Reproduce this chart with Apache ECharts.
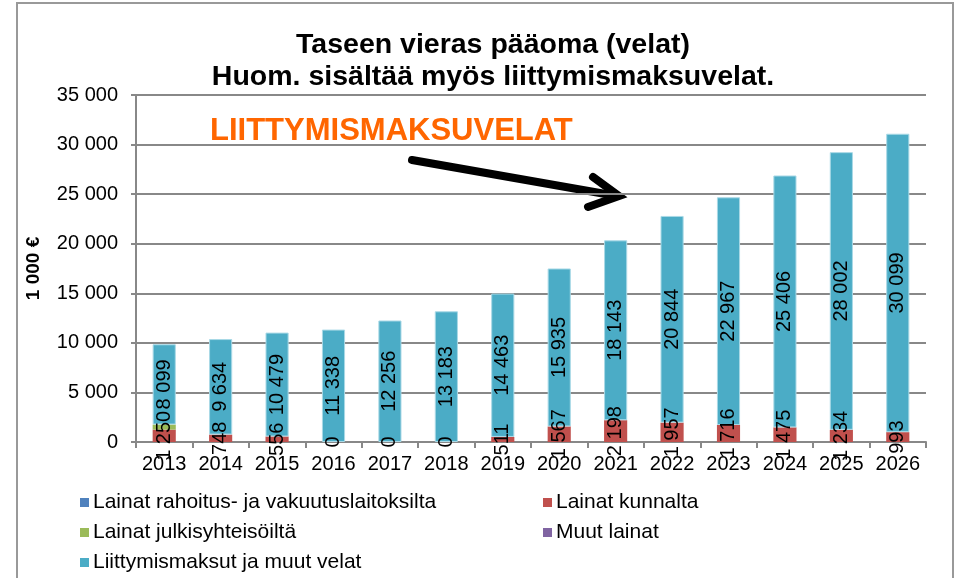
<!DOCTYPE html>
<html>
<head>
<meta charset="utf-8">
<script src="https://cdn.jsdelivr.net/npm/echarts@6/dist/echarts.min.js"></script>
<style>html,body{margin:0;padding:0;background:#fff}#c{width:954px;height:578px}</style>
</head>
<body>
<div id="c"></div>
<script>
const years = ['2013','2014','2015','2016','2017','2018','2019','2020','2021','2022','2023','2024','2025','2026'];
const rahoitus = [null,null,null,null,null,null,null,null,null,null,null,null,null,null];
const kunnalta = [1250,748,556,0,0,0,511,1567,2198,1957,1716,1475,1234,993];
const julkisyhteisoilta = [510,null,null,null,null,null,null,null,null,null,null,null,null,null];
const muutLainat = [null,null,null,null,null,null,null,null,null,null,null,null,null,null];
const liittymismaksut = [8099,9634,10479,11338,12256,13183,14463,15935,18143,20844,22967,25406,28002,30099];
const seriesNames = ['Lainat rahoitus- ja vakuutuslaitoksilta','Lainat kunnalta','Lainat julkisyhteisöiltä','Muut lainat','Liittymismaksut ja muut velat'];
const colors = ['#4F81BD','#C0504D','#9BBB59','#8064A2','#4BACC6'];
const titleText = 'Taseen vieras pääoma (velat)\nHuom. sisältää myös liittymismaksuvelat.';
const annotation = 'LIITTYMISMAKSUVELAT';

const FONT = 'Liberation Sans, Arial, sans-serif';
function fmt(v){ return String(v).replace(/\B(?=(\d{3})+(?!\d))/g,' '); }

const dataLabel = {
  show: true, position: 'inside', rotate: 90, color: '#000', fontSize: 20,
  fontFamily: FONT, textBorderWidth: 0,
  formatter: p => (p.value === null || p.value === undefined) ? '' : fmt(p.value)
};
const allData = [rahoitus, kunnalta, julkisyhteisoilta, muutLainat, liittymismaksut];
const showLabel = [false, true, false, false, true];

const series = allData.map((d,i) => ({
  name: seriesNames[i], type: 'bar', stack: 'total', data: d, barWidth: '41%',
  itemStyle: { color: colors[i], borderColor: i===4 ? '#a9d9e6' : colors[i], borderWidth: i===4 ? 1 : 0 },
  label: showLabel[i] ? dataLabel : { show: false },
  emphasis: { disabled: true }
}));

const legendPos = [[80,492],[543,492],[80,522],[543,522],[80,552]];
const legends = seriesNames.map((n,i) => ({
  data: [{ name: n, itemStyle: { borderWidth: 0 } }], left: legendPos[i][0], top: legendPos[i][1], padding: 0,
  icon: 'rect', itemWidth: 9, itemHeight: 9, itemGap: 0,
  textStyle: { fontSize: 21, fontFamily: FONT, color: '#000', padding: [0,0,0,-1] },
  selectedMode: false
}));

const chart = echarts.init(document.getElementById('c'), null, {renderer: 'canvas'});
chart.setOption({
  animation: false,
  backgroundColor: '#fff',
  color: colors,
  title: {
    text: titleText, left: 488, textAlign: 'center', top: 24,
    textStyle: { fontSize: 28.5, fontWeight: 'bold', fontFamily: FONT, color: '#000', lineHeight: 32 }
  },
  legend: legends,
  grid: { left: 136, right: 28, top: 95, bottom: 136, containLabel: false },
  xAxis: {
    type: 'category', data: years,
    axisLine: { lineStyle: { color: '#888', width: 2 } },
    axisTick: { show: true, alignWithLabel: false, length: 6, lineStyle: { color: '#888', width: 2 } },
    axisLabel: { interval: 0, fontSize: 20, fontFamily: FONT, color: '#000', margin: 12 }
  },
  yAxis: {
    type: 'value', min: 0, max: 35000, interval: 5000,
    name: '1 000 €', nameLocation: 'middle', nameRotate: 90, nameGap: 93,
    nameTextStyle: { fontSize: 19, fontWeight: 'bold', fontFamily: FONT, color: '#000' },
    axisLine: { show: true, lineStyle: { color: '#888', width: 2 } },
    axisTick: { show: true, length: 5, lineStyle: { color: '#888', width: 2 } },
    splitLine: { lineStyle: { color: '#888', width: 2 } },
    axisLabel: { fontSize: 20, fontFamily: FONT, color: '#000', margin: 18, formatter: v => fmt(v) }
  },
  series: series,
  graphic: [
    { type: 'rect', shape: { x: 17, y: 3, width: 936, height: 600 }, style: { fill: 'none', stroke: '#999', lineWidth: 2 }, silent: true, z: -1 },
    { type: 'text', left: 210, top: 116, style: { text: annotation, fill: '#FF6600', font: 'bold 31px ' + FONT } },
    { type: 'polyline', shape: { points: [[412,160],[617,196]] }, style: { stroke: '#000', lineWidth: 8, lineCap: 'round' } },
    { type: 'polyline', shape: { points: [[593,177],[619,196],[588,207]] }, style: { stroke: '#000', lineWidth: 8, lineCap: 'round', lineJoin: 'miter', fill: 'none' } }
  ]
});
</script>
</body>
</html>
